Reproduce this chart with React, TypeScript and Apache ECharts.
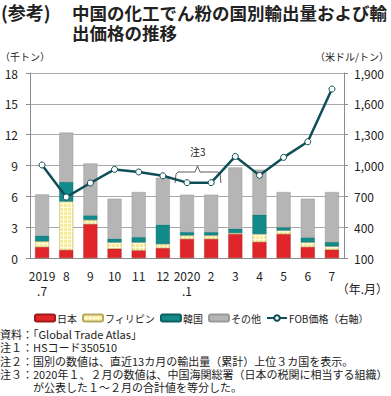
import React, { useEffect, useRef } from "react";
import * as echarts from "echarts";

const categories = ["2019\n.7", "8", "9", "10", "11", "12", "2020\n.1", "2", "3", "4", "5", "6", "7"];
const japan = [1.07, 0.78, 3.3, 0.9, 0.74, 0.97, 1.85, 1.85, 2.33, 1.56, 2.33, 1.07, 0.81];
const philippines = [0.55, 4.72, 0.4, 0.62, 0.78, 0.39, 0.35, 0.35, 0.1, 0.77, 0.35, 0.45, 0.32];
const korea = [0.55, 1.9, 0.45, 0.36, 0.52, 1.88, 0.33, 0.33, 0.42, 1.88, 0.3, 0.48, 0.43];
const others = [4.02, 4.8, 5.05, 3.89, 4.38, 4.57, 3.63, 3.63, 5.96, 4.38, 3.44, 3.77, 4.86];
const fobPrice = [1005, 693, 830, 962, 937, 900, 833, 833, 1088, 904, 1079, 1231, 1744];

const seriesNames = ["日本", "フィリピン", "韓国", "その他", "FOB価格（右軸）"];
const titleLines = ["中国の化工でん粉の国別輸出量および輸", "出価格の推移"];
const noteLines = [
  "資料：「Global Trade Atlas」",
  "注１：HSコード350510",
  "注２：国別の数値は、直近13カ月の輸出量（累計）上位３カ国を表示。",
  "注３：2020年１、２月の数値は、中国海関総署（日本の税関に相当する組織）",
  "　　　が公表した１～２月の合計値を等分した。",
];

const FONT = "'Noto Sans CJK JP', 'Noto Sans', sans-serif";

function makePattern(): string {
  const c = document.createElement("canvas");
  c.width = 4;
  c.height = 4;
  const ctx = c.getContext("2d")!;
  ctx.fillStyle = "#fffde6";
  ctx.fillRect(0, 0, 4, 4);
  ctx.fillStyle = "#f6ec98";
  ctx.fillRect(0, 0, 3, 3);
  return c.toDataURL();
}

export default function App() {
  const ref = useRef<HTMLDivElement>(null);
  useEffect(() => {
    document.body.style.margin = "0";
    const chart = echarts.init(ref.current!, null, { renderer: "svg" });
    const pattern = { image: makePattern(), repeat: "repeat" };
    chart.setOption({
      animation: false,
      grid: { left: 30, right: 47, top: 73, bottom: 138 },
      legend: {
        left: 29,
        top: 308,
        width: 380,
        itemWidth: 20,
        itemHeight: 7,
        itemGap: 5,
        textStyle: { fontFamily: FONT, fontSize: 10, color: "#222", padding: [0, 0, 0, -3] },
        data: seriesNames,
      },
      xAxis: {
        type: "category",
        data: categories,
        axisLine: { lineStyle: { color: "#8c8c8c" } },
        axisTick: { lineStyle: { color: "#8c8c8c" }, length: 4 },
        axisLabel: { fontFamily: FONT, fontSize: 12, color: "#222", lineHeight: 15, margin: 10, interval: 0 },
      },
      yAxis: [
        {
          type: "value",
          min: 0,
          max: 18,
          interval: 3,
          axisLine: { show: true, lineStyle: { color: "#8c8c8c" } },
          axisTick: { show: true, length: 4, lineStyle: { color: "#8c8c8c" } },
          axisLabel: { fontFamily: FONT, fontSize: 12, color: "#222", margin: 12 },
          splitLine: { lineStyle: { color: "#a8a8a8" } },
        },
        {
          type: "value",
          min: 100,
          max: 1900,
          interval: 300,
          axisLine: { show: true, lineStyle: { color: "#8c8c8c" } },
          axisTick: { show: true, length: 4, lineStyle: { color: "#8c8c8c" } },
          axisLabel: {
            fontFamily: FONT,
            fontSize: 12,
            color: "#222",
            margin: 10,
            formatter: (v: number) => v.toLocaleString("en-US"),
          },
          splitLine: { show: false },
        },
      ],
      series: [
        {
          name: seriesNames[0],
          type: "bar",
          stack: "vol",
          barWidth: 14,
          data: japan,
          itemStyle: { color: "#e0262b", borderColor: "#a01a1a", borderWidth: 0.4 },
        },
        {
          name: seriesNames[1],
          type: "bar",
          stack: "vol",
          data: philippines,
          itemStyle: { color: pattern, borderColor: "#b8a860", borderWidth: 0.5 },
        },
        {
          name: seriesNames[2],
          type: "bar",
          stack: "vol",
          data: korea,
          itemStyle: { color: "#138a8a", borderColor: "#0c6060", borderWidth: 0.4 },
        },
        {
          name: seriesNames[3],
          type: "bar",
          stack: "vol",
          data: others,
          itemStyle: { color: "#b5b5b5", borderColor: "#9a9a9a", borderWidth: 0.5 },
        },
        {
          name: seriesNames[4],
          type: "line",
          yAxisIndex: 1,
          data: fobPrice,
          symbol: "circle",
          symbolSize: 6,
          z: 5,
          lineStyle: { color: "#0f4e58", width: 2.5 },
          itemStyle: { color: "#ffffff", borderColor: "#0f4e58", borderWidth: 1 },
        },
      ],
      graphic: [
        {
          type: "text",
          left: 1,
          top: 2,
          style: { text: "(参考)", font: `bold 18px ${FONT}`, lineHeight: 20, fill: "#222" },
        },
        {
          type: "text",
          left: 72,
          top: 2,
          style: { text: titleLines.join("\n"), font: `bold 17.5px ${FONT}`, lineHeight: 20, fill: "#222" },
        },
        {
          type: "text",
          left: 0,
          top: 51,
          style: { text: "（千トン）", font: `10px ${FONT}`, fill: "#222" },
        },
        {
          type: "text",
          right: 2,
          top: 51,
          style: { text: "（米ドル/トン）", font: `10px ${FONT}`, fill: "#222" },
        },
        {
          type: "text",
          right: 3,
          top: 282,
          style: { text: "（年.月）", font: `12px ${FONT}`, fill: "#222" },
        },
        {
          type: "text",
          left: 190,
          top: 146,
          z: 10,
          style: { text: "注3", font: `10px ${FONT}`, fill: "#222" },
        },
        {
          type: "polyline",
          z: 10,
          shape: {
            points: [
              [175, 183],
              [176, 174],
              [178, 172],
              [195, 172],
              [197.5, 166],
              [200, 172],
              [218, 172],
              [220, 174],
              [221, 183],
            ],
          },
          style: { stroke: "#333", lineWidth: 0.8, fill: "none" },
        },
        {
          type: "text",
          left: 0,
          top: 327,
          style: { text: noteLines.join("\n"), font: `11px ${FONT}`, lineHeight: 13.4, fill: "#222" },
        },
      ],
    });
    return () => chart.dispose();
  }, []);
  return <div ref={ref} style={{ width: 391, height: 396 }} />;
}
